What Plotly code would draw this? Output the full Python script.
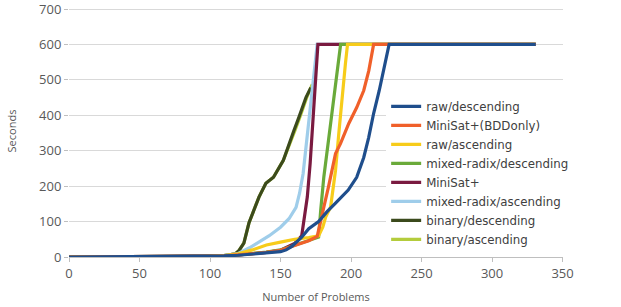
import plotly.graph_objects as go

# Series names (legend order)
names = ["raw/descending", "MiniSat+(BDDonly)", "raw/ascending", "mixed-radix/descending",
         "MiniSat+", "mixed-radix/ascending", "binary/descending", "binary/ascending"]
colors = ["#1f4e8c", "#f0602a", "#f7cc1a", "#6aaa3a", "#7a1a40", "#9fcdea", "#3b4a1c", "#b4cc3c"]

# Number of problems solved (x) vs. seconds (y)
raw_desc_n = [0, 95, 110, 120, 130, 140, 150, 154, 158, 165, 170, 177, 183, 189, 198, 204, 209, 212.5, 216, 220, 223, 227, 331]
raw_desc_s = [0, 1, 3, 5, 8, 11, 15, 20, 30, 56, 80, 100, 128, 152, 189, 225, 281, 337, 405, 470, 526, 600, 600]

bdd_n = [0, 95, 110, 120, 130, 140, 150, 160, 170, 176, 178, 180.7, 184, 189, 192.5, 198.4, 204, 209, 212.6, 216, 331]
bdd_s = [0, 1, 3, 6, 9, 13, 19, 32, 46, 58, 90, 141, 198, 292, 320, 377, 422, 470, 526, 600, 600]

raw_asc_n = [0, 95, 110, 120, 130, 140, 150, 160, 170, 177, 180, 182, 185.5, 189, 191.5, 193.5, 196, 197.5, 331]
raw_asc_s = [0, 1, 4, 9, 20, 34, 42, 50, 55, 60, 85, 113, 141, 245, 357, 450, 545, 600, 600]

mixed_desc_n = [0, 95, 110, 120, 130, 140, 150, 160, 170, 177, 178.5, 180.7, 184, 188, 190, 192.6, 331]
mixed_desc_s = [0, 1, 3, 6, 9, 14, 20, 33, 47, 56, 132, 226, 329, 451, 526, 600, 600]

minisat_n = [0, 95, 110, 120, 130, 140, 150, 160, 165, 167, 169, 171, 173, 175, 176.5, 331]
minisat_s = [0, 1, 3, 6, 9, 13, 19, 38, 60, 113, 170, 264, 377, 497, 600, 600]

mixed_asc_n = [0, 95, 110, 120, 128, 135, 142, 150, 156, 161, 163.5, 166, 168, 170, 172, 174, 176, 331]
mixed_asc_s = [0, 1, 4, 10, 26, 42, 60, 84, 108, 140, 180, 235, 310, 385, 450, 530, 600, 600]

bin_desc_n = [0, 95, 110, 118, 120.5, 124, 127.6, 131, 134.7, 139.6, 145, 152, 156, 159.5, 163, 168, 171.5]
bin_desc_s = [0, 1, 4, 9, 18, 39, 96, 132, 169, 208, 225, 273, 320, 357, 394, 450, 478]

bin_asc_n = [0, 95, 110, 118, 120.5, 124, 127.6, 131, 134.7, 139.6, 145, 152, 157, 160.5, 164, 169, 172.5]
bin_asc_s = [0, 1, 4, 9, 18, 39, 96, 132, 169, 208, 225, 273, 322, 360, 398, 455, 487]

series = [
    (raw_desc_n, raw_desc_s),
    (bdd_n, bdd_s),
    (raw_asc_n, raw_asc_s),
    (mixed_desc_n, mixed_desc_s),
    (minisat_n, minisat_s),
    (mixed_asc_n, mixed_asc_s),
    (bin_desc_n, bin_desc_s),
    (bin_asc_n, bin_asc_s),
]

x_ticks = [0, 50, 100, 150, 200, 250, 300, 350]
y_ticks = [0, 100, 200, 300, 400, 500, 600, 700]

fig = go.Figure()
# draw in reverse so raw/descending is on top; legend reversed to keep order
for i in reversed(range(len(names))):
    xs, ys = series[i]
    fig.add_trace(go.Scatter(
        x=xs, y=ys, mode="lines", name=names[i],
        line=dict(color=colors[i], width=3.2),
    ))

font_fam = "Open Sans, Lato, sans-serif"
fig.update_layout(
    width=621, height=307,
    margin=dict(l=69, r=58, t=5, b=50),
    paper_bgcolor="white", plot_bgcolor="white",
    font=dict(family=font_fam, color="#595959"),
    showlegend=True,
    legend=dict(
        traceorder="reversed",
        x=0.642, xanchor="left", y=0.655, yanchor="top",
        bgcolor="white", borderwidth=0,
        font=dict(size=11.8, color="#404040", family="DejaVu Sans, sans-serif"),
        tracegroupgap=0,
    ),
    xaxis=dict(
        range=[0, 350.3], tickvals=x_ticks, ticktext=[str(v) for v in x_ticks],
        showgrid=False, zeroline=False, automargin=False,
        showline=True, linecolor="#bfbfbf", linewidth=1,
        ticks="outside", ticklen=4, tickcolor="#bfbfbf",
        tickfont=dict(size=13, color="#595959"),
        title=dict(text="Number of Problems", font=dict(size=11, color="#595959"), standoff=12),
    ),
    yaxis=dict(
        range=[0, 711.3], tickvals=y_ticks, ticktext=[str(v) for v in y_ticks],
        showgrid=True, gridcolor="#d9d9d9", gridwidth=1, zeroline=False, automargin=False,
        showline=False,
        ticks="outside", ticklen=4, tickcolor="#bfbfbf",
        ticklabeloverflow="allow",
        tickfont=dict(size=13, color="#595959"),
        title=dict(text="Seconds", font=dict(size=11, color="#595959"), standoff=20),
    ),
)

fig.write_html("out.html")
